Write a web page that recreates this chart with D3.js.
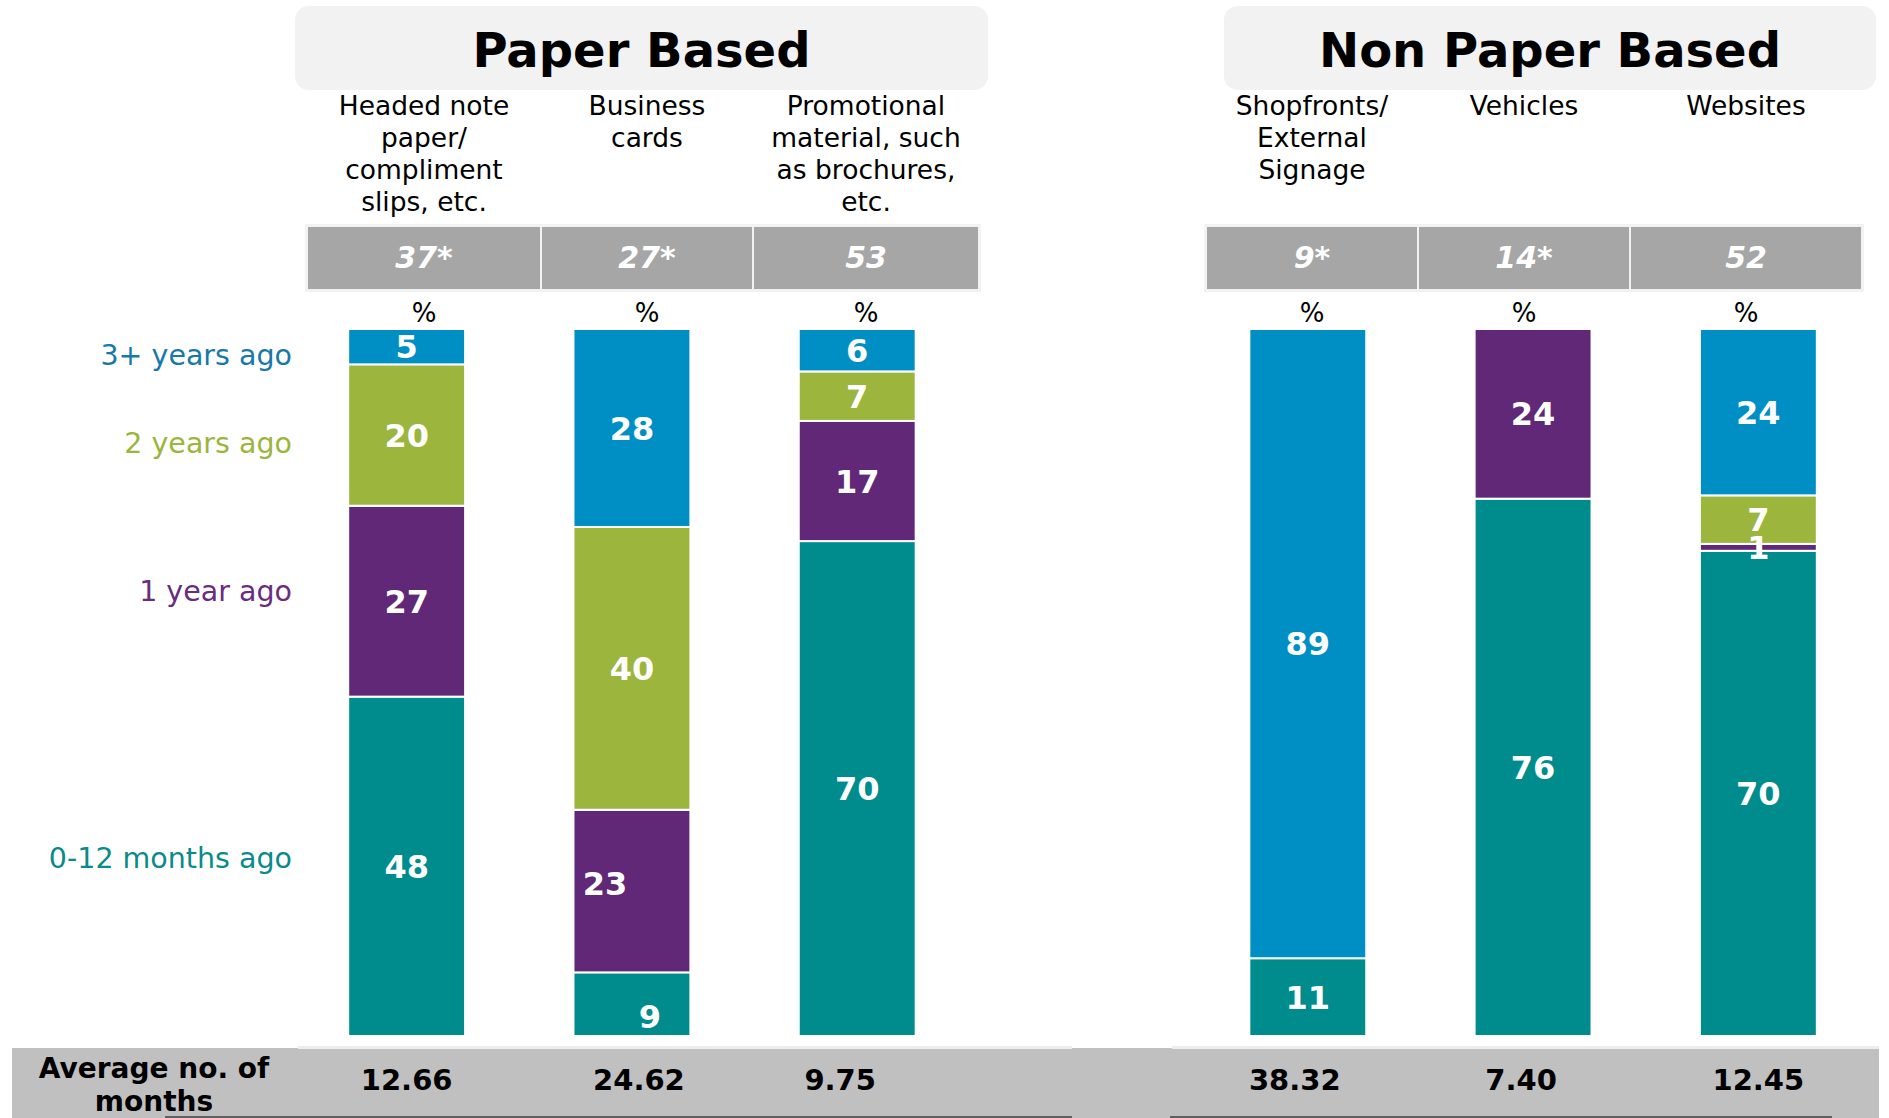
<!DOCTYPE html>
<html>
<head>
<meta charset="utf-8">
<script src="https://cdn.jsdelivr.net/npm/d3@7"></script>
<style>
  body { margin: 0; background: #fff; }
  svg { display: block; font-family: "DejaVu Sans", Verdana, sans-serif; }
</style>
</head>
<body>
<svg id="chart" width="1889" height="1118"></svg>
<script>
// categories (wrapped as in the original), group of each one
var categoryLines = [
    ["Headed note", "paper/", "compliment", "slips, etc."],
    ["Business", "cards"],
    ["Promotional", "material, such", "as brochures,", "etc."],
    ["Shopfronts/", "External", "Signage"],
    ["Vehicles"],
    ["Websites"]
];
var categoryKeys = ["headed", "cards", "promo", "shop", "vehicles", "websites"];
var groupNames = ["Paper Based", "Non Paper Based"];
var groupOf = [0, 0, 0, 1, 1, 1];

// series, bottom to top
var timeBands = ["0-12 months ago", "1 year ago", "2 years ago", "3+ years ago"];
var months012 = [48, 9, 70, 11, 76, 70];
var oneYear   = [27, 23, 17, 0, 24, 1];
var twoYears  = [20, 40, 7, 0, 0, 7];
var threePlus = [5, 28, 6, 89, 0, 24];

var sampleSizes = ["37*", "27*", "53", "9*", "14*", "52"];
var avgMonths = ["12.66", "24.62", "9.75", "38.32", "7.40", "12.45"];

var bandColors = ["#008C8C", "#612878", "#9BB53D", "#008FC5"];
var legendColors = ["#0A8A8A", "#6A2C7E", "#9BB53D", "#1779A8"];

var svg = d3.select("#chart");

// table layout (cell edges of the sample-size rows)
var tableEdges = [[307, 541, 753, 979], [1206, 1418, 1630, 1862]];
var headerBoxes = [[295, 988], [1224, 1876]];

var rows = categoryKeys.map(function(k, i) {
    return { key: k, "0-12 months ago": months012[i], "1 year ago": oneYear[i],
             "2 years ago": twoYears[i], "3+ years ago": threePlus[i] };
});

// spacer slot between the two groups
var xDomain = categoryKeys.slice(0, 3).concat(["gap"], categoryKeys.slice(3));
var x = d3.scaleBand().domain(xDomain).range([294, 1871]).paddingInner(0.481).paddingOuter(0.2405);
var y = d3.scaleLinear().domain([0, 1]).range([1036, 329]);

var stack = d3.stack().keys(timeBands).offset(d3.stackOffsetExpand);
var series = stack(rows);

// header boxes
groupNames.forEach(function(g, gi) {
    var hb = headerBoxes[gi];
    svg.append("rect")
        .attr("x", hb[0]).attr("y", 6)
        .attr("width", hb[1] - hb[0]).attr("height", 84)
        .attr("rx", 14)
        .style("fill", "#F2F2F2");
    svg.append("text")
        .attr("x", (hb[0] + hb[1]) / 2).attr("y", 67)
        .attr("text-anchor", "middle")
        .style("font-size", "48px").style("font-weight", "bold")
        .text(g);
});

// sample-size table cells
var cells = categoryKeys.map(function(k, i) {
    var g = groupOf[i], j = i - g * 3;
    var e = tableEdges[g];
    return { x0: e[j], x1: e[j + 1], i: i };
});

tableEdges.forEach(function(e) {
    svg.append("rect")
        .attr("x", e[0] - 2).attr("y", 224)
        .attr("width", e[3] - e[0] + 4).attr("height", 68)
        .style("fill", "#F2F2F2");
});

svg.selectAll(".cell")
    .data(cells)
    .enter()
    .append("rect")
    .attr("class", "cell")
    .attr("x", function(d) { return d.x0 + 1; })
    .attr("y", 227)
    .attr("width", function(d) { return d.x1 - d.x0 - 2; })
    .attr("height", 62)
    .style("fill", "#A6A6A6");

svg.selectAll(".base")
    .data(cells)
    .enter()
    .append("text")
    .attr("class", "base")
    .attr("x", function(d) { return (d.x0 + d.x1) / 2; })
    .attr("y", 268)
    .attr("text-anchor", "middle")
    .style("fill", "#fff").style("font-size", "30px")
    .style("font-weight", "bold").style("font-style", "italic")
    .text(function(d) { return sampleSizes[d.i]; });

// category labels and % marks above the cells
cells.forEach(function(c) {
    var cx = (c.x0 + c.x1) / 2;
    var t = svg.append("text")
        .attr("text-anchor", "middle")
        .style("font-size", "26.5px");
    categoryLines[c.i].forEach(function(line, li) {
        t.append("tspan").attr("x", cx).attr("y", 115 + li * 32).text(line);
    });
    svg.append("text")
        .attr("x", cx).attr("y", 322)
        .attr("text-anchor", "middle")
        .style("font-size", "26px")
        .text("%");
});

// stacked bars
var layers = svg.selectAll(".layer")
    .data(series)
    .enter()
    .append("g")
    .attr("class", "layer")
    .style("fill", function(d, i) { return bandColors[i]; });

layers.selectAll("rect")
    .data(function(d) { return d.filter(function(p) { return p[1] - p[0] > 0; }); })
    .enter()
    .append("rect")
    .attr("x", function(d) { return x(d.data.key); })
    .attr("y", function(d) { return y(d[1]); })
    .attr("width", x.bandwidth())
    .attr("height", function(d) { return y(d[0]) - y(d[1]); })
    .style("stroke", "#fff")
    .style("stroke-width", 2);

// a couple of labels sit off-centre in the original
var labelNudge = { "cards|1 year ago": [-27, -8], "cards|0-12 months ago": [18, 12] };

// labels drawn after all bars so they stay on top
var labels = svg.append("g");
series.forEach(function(s) {
    labels.selectAll(null)
        .data(s.filter(function(p) { return p.data[s.key] > 0; }))
        .enter()
        .append("text")
        .attr("x", function(d) {
            var n = labelNudge[d.data.key + "|" + s.key];
            return x(d.data.key) + x.bandwidth() / 2 + (n ? n[0] : 0);
        })
        .attr("y", function(d) {
            var n = labelNudge[d.data.key + "|" + s.key];
            return (y(d[0]) + y(d[1])) / 2 + (n ? n[1] : 0);
        })
        .attr("dy", "0.36em")
        .attr("text-anchor", "middle")
        .style("fill", "#fff").style("font-size", "32px").style("font-weight", "bold")
        .text(function(d) { return d.data[s.key]; });
});

// legend labels next to the first bar
var legendNudge = [-9, -10, 8, 8];
series.forEach(function(s, i) {
    var p = s[0];
    svg.append("text")
        .attr("x", 292)
        .attr("y", (y(p[0]) + y(p[1])) / 2 + legendNudge[i])
        .attr("dy", "0.36em")
        .attr("text-anchor", "end")
        .style("fill", legendColors[i]).style("font-size", "28.5px")
        .text(timeBands[i]);
});

// average row
svg.append("rect")
    .attr("x", 12).attr("y", 1048)
    .attr("width", 1867).attr("height", 70)
    .style("fill", "#C0C0C0");
svg.append("rect").attr("x", 298).attr("y", 1046).attr("width", 774).attr("height", 3).style("fill", "#EDEDED");
svg.append("rect").attr("x", 1172).attr("y", 1046).attr("width", 707).attr("height", 3).style("fill", "#EDEDED");
svg.append("rect").attr("x", 165).attr("y", 1116).attr("width", 907).attr("height", 2).style("fill", "#606060");
svg.append("rect").attr("x", 1170).attr("y", 1116).attr("width", 662).attr("height", 2).style("fill", "#606060");

var avgLabel = svg.append("text")
    .attr("text-anchor", "middle")
    .style("font-size", "28px").style("font-weight", "bold");
avgLabel.append("tspan").attr("x", 154).attr("y", 1078).text("Average no. of");
avgLabel.append("tspan").attr("x", 154).attr("y", 1111).text("months");

var avgNudge = [0, 7, -17, -13, -12, 0];
svg.selectAll(".avg")
    .data(categoryKeys)
    .enter()
    .append("text")
    .attr("class", "avg")
    .attr("x", function(d, i) { return x(d) + x.bandwidth() / 2 + avgNudge[i]; })
    .attr("y", 1090)
    .attr("text-anchor", "middle")
    .style("font-size", "29px").style("font-weight", "bold")
    .text(function(d, i) { return avgMonths[i]; });
</script>
</body>
</html>
